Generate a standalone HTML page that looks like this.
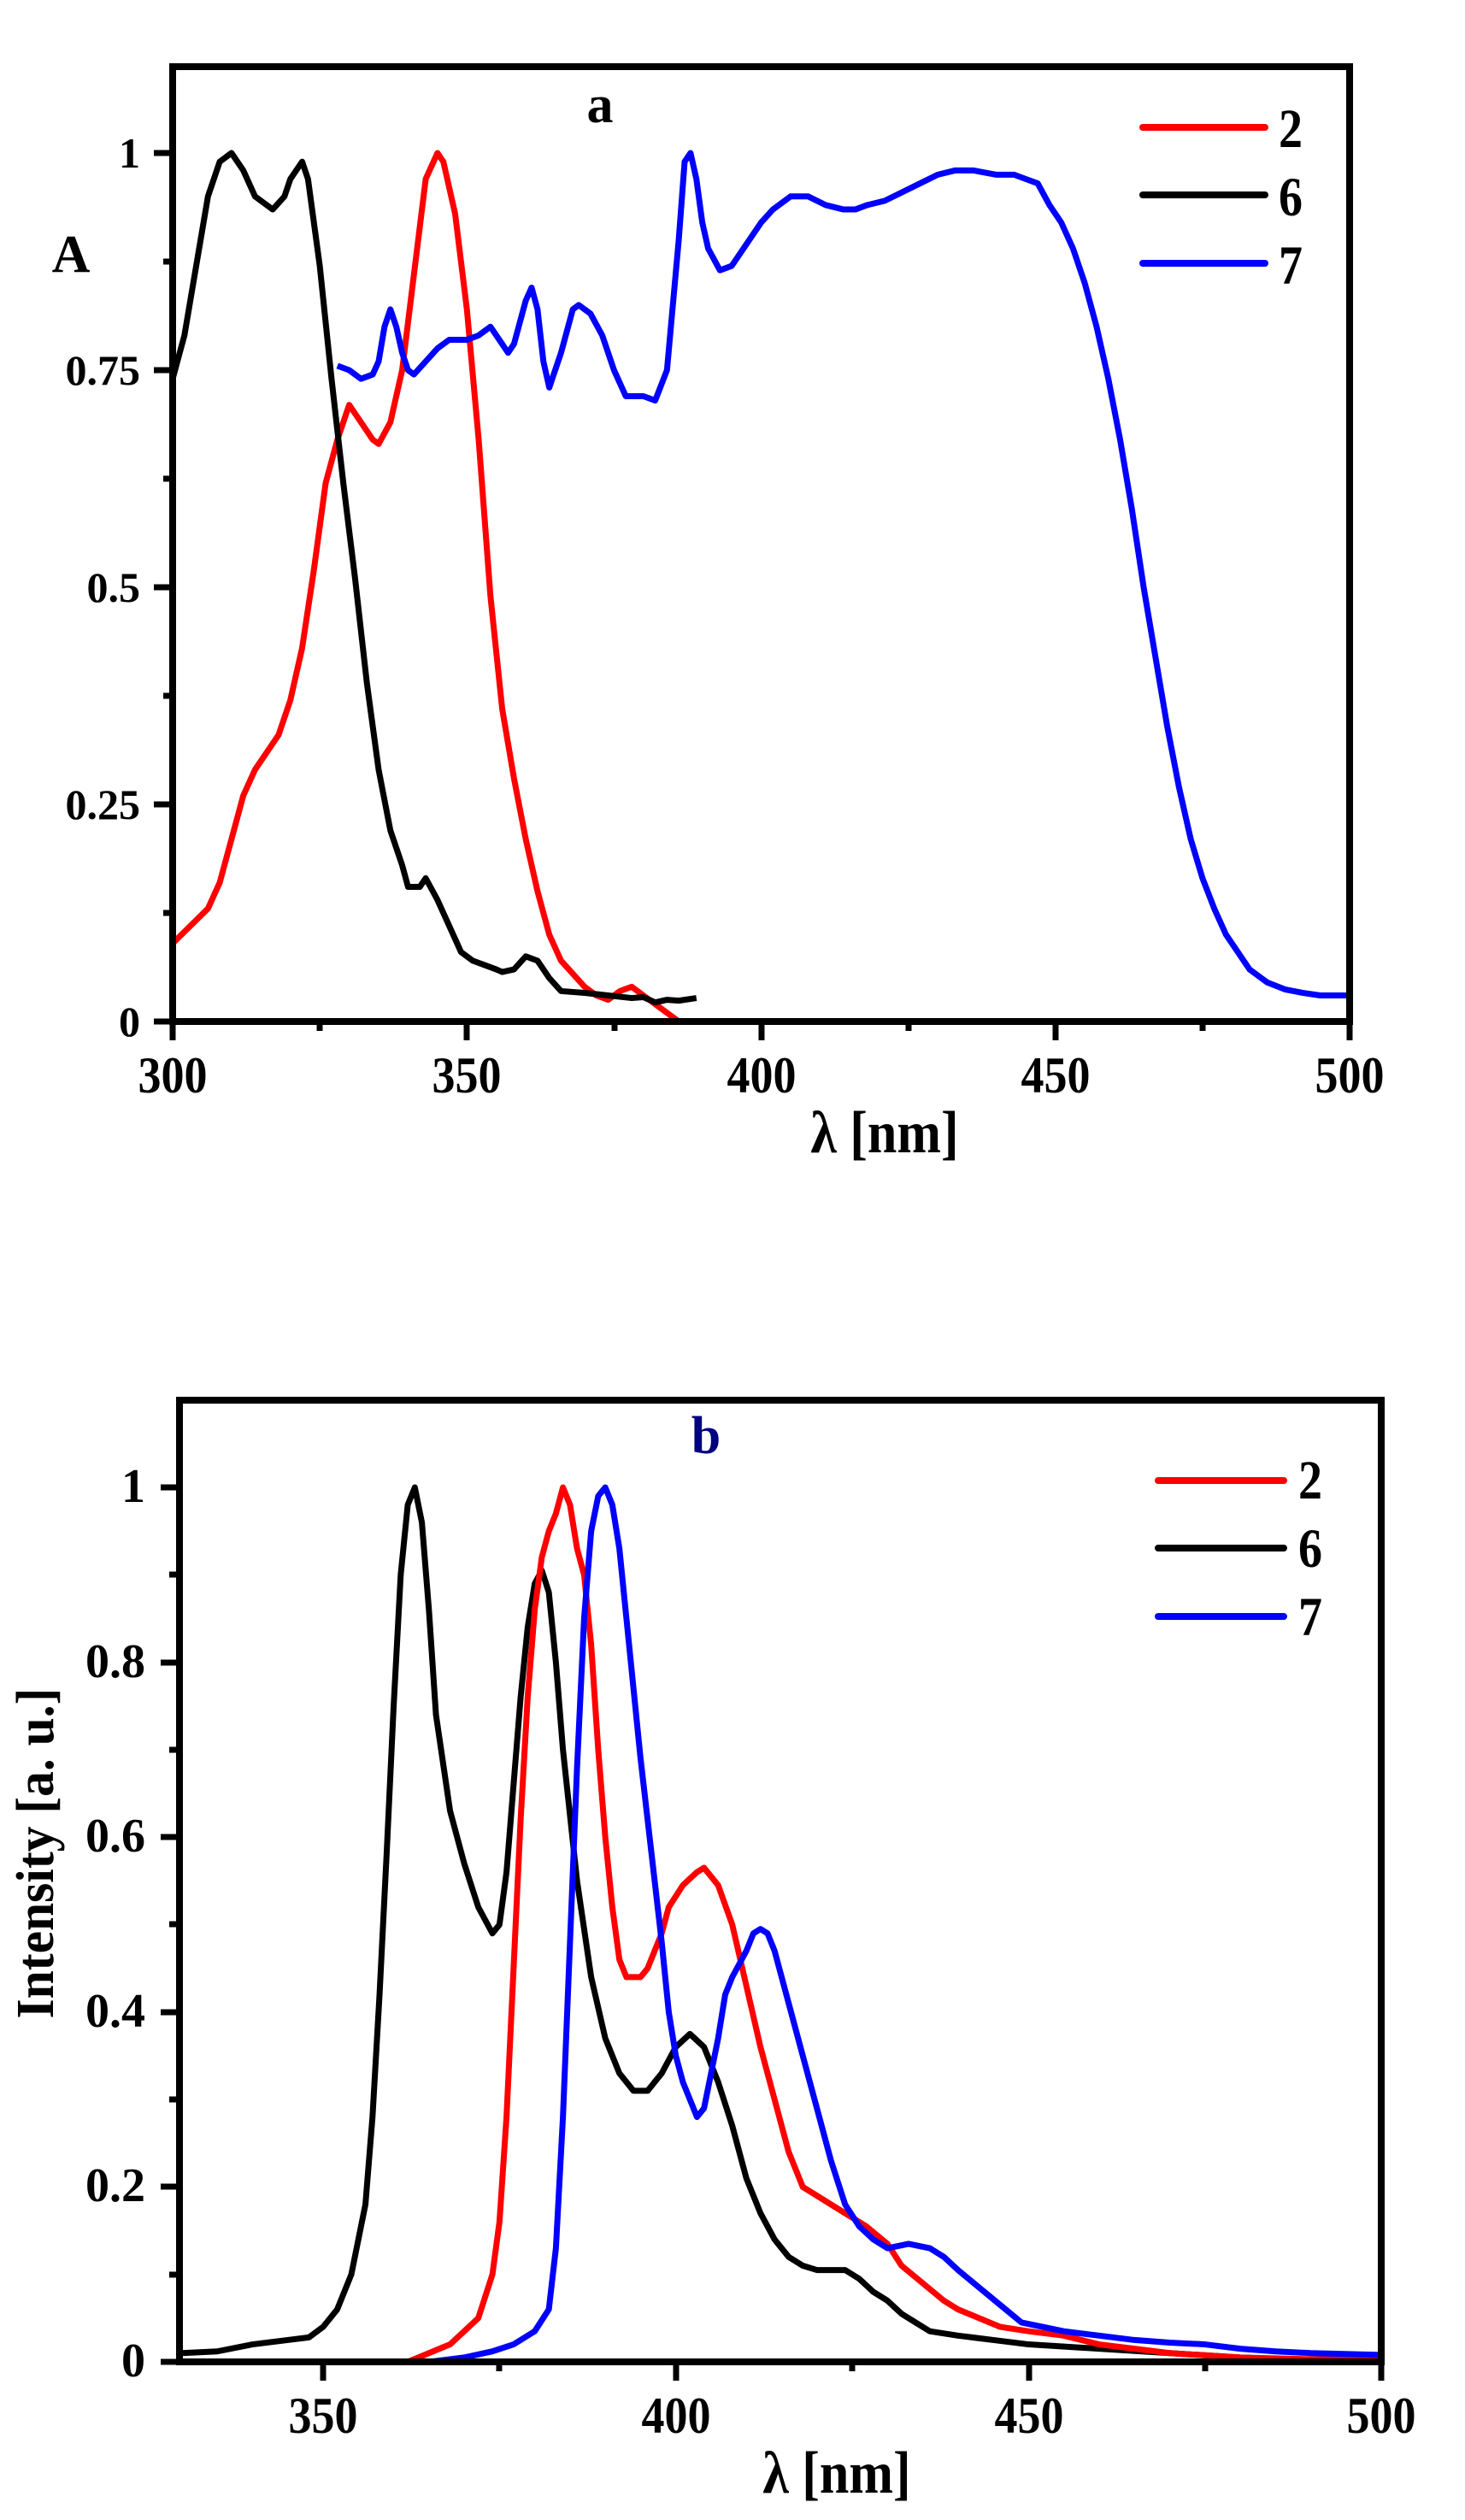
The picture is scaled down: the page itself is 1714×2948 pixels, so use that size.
<!DOCTYPE html>
<html><head><meta charset="utf-8"><style>
html,body{margin:0;padding:0;background:#fff;}
svg{display:block;}
text{font-family:"Liberation Serif",serif;font-weight:bold;fill:#000;}
.c{fill:none;stroke-width:7;stroke-linejoin:round;vector-effect:non-scaling-stroke;}
.ax{fill:none;stroke:#000;stroke-width:8;}
.tk{stroke:#000;stroke-width:7;}
.lg{stroke-width:8;stroke-linecap:round;}
</style></head><body>
<svg width="1714" height="2948" viewBox="0 0 1714 2948" xmlns="http://www.w3.org/2000/svg">
<!-- Plot a -->
<g transform="translate(202,1195) scale(6.885,-1016) translate(-300,0)">
<polyline class="c" stroke="#ff0000" points="300,0.09 303,0.11 306,0.13 308,0.16 310,0.21 312,0.26 314,0.29 316,0.31 318,0.33 320,0.37 322,0.43 324,0.52 326,0.62 328,0.67 330,0.71 332,0.69 334,0.67 335,0.665 337,0.69 339,0.75 341,0.86 343,0.97 345,1.0 346,0.99 348,0.93 350,0.82 352,0.67 354,0.49 356,0.36 358,0.28 360,0.21 362,0.15 364,0.10 366,0.07 368,0.055 370,0.04 372,0.03 374,0.025 376,0.035 378,0.04 380,0.03 382,0.02 384,0.01 386,0.0"/>
<polyline class="c" stroke="#000" points="300,0.74 302,0.79 304,0.87 306,0.95 308,0.99 310,1.0 312,0.98 314,0.95 316,0.94 317,0.935 319,0.95 320,0.97 322,0.99 323,0.97 325,0.87 327,0.74 329,0.62 331,0.51 333,0.39 335,0.29 337,0.22 339,0.18 340,0.155 342,0.155 343,0.165 345,0.14 347,0.11 349,0.08 351,0.07 353,0.065 355,0.06 356,0.057 358,0.06 360,0.075 362,0.07 364,0.05 366,0.035 370,0.033 374,0.03 378,0.027 380,0.028 382,0.022 384,0.025 386,0.024 389,0.027"/>
<polyline class="c" stroke="#0000ff" points="328,0.755 330,0.75 332,0.74 334,0.745 335,0.76 336,0.80 337,0.82 338,0.80 339,0.77 340,0.75 341,0.745 343,0.76 345,0.775 347,0.785 350,0.785 352,0.79 354,0.80 356,0.78 357,0.77 358,0.78 360,0.83 361,0.845 362,0.82 363,0.76 364,0.73 366,0.77 368,0.82 369,0.825 371,0.815 373,0.79 375,0.75 377,0.72 380,0.72 382,0.715 384,0.75 386,0.90 387,0.99 388,1.0 389,0.97 390,0.92 391,0.89 393,0.865 395,0.87 397,0.89 400,0.92 402,0.935 405,0.95 408,0.95 411,0.94 414,0.935 416,0.935 418,0.94 421,0.945 424,0.955 427,0.965 430,0.975 433,0.98 436,0.98 440,0.975 443,0.975 445,0.97 447,0.965 449,0.94 451,0.92 453,0.89 455,0.85 457,0.80 459,0.74 461,0.67 463,0.59 465,0.50 467,0.42 469,0.34 471,0.27 473,0.21 475,0.165 477,0.13 479,0.10 481,0.08 483,0.06 486,0.045 489,0.037 492,0.033 495,0.03 500,0.03"/>
</g>
<rect class="ax" x="202" y="78" width="1377" height="1117"/>
<g class="tk">
<line x1="202" y1="1195" x2="180" y2="1195"/><line x1="202" y1="941" x2="180" y2="941"/><line x1="202" y1="687" x2="180" y2="687"/><line x1="202" y1="433" x2="180" y2="433"/><line x1="202" y1="179" x2="180" y2="179"/>
<line x1="202" y1="1068" x2="191" y2="1068"/><line x1="202" y1="814" x2="191" y2="814"/><line x1="202" y1="560" x2="191" y2="560"/><line x1="202" y1="306" x2="191" y2="306"/>
<line x1="202" y1="1195" x2="202" y2="1217"/><line x1="546" y1="1195" x2="546" y2="1217"/><line x1="891" y1="1195" x2="891" y2="1217"/><line x1="1235" y1="1195" x2="1235" y2="1217"/><line x1="1579" y1="1195" x2="1579" y2="1217"/>
<line x1="374" y1="1195" x2="374" y2="1206"/><line x1="719" y1="1195" x2="719" y2="1206"/><line x1="1063" y1="1195" x2="1063" y2="1206"/><line x1="1407" y1="1195" x2="1407" y2="1206"/>
</g>
<g font-size="50" text-anchor="end">
<text x="164" y="1212">0</text><text x="164" y="958">0.25</text><text x="164" y="704">0.5</text><text x="164" y="450">0.75</text><text x="164" y="196">1</text>
</g>
<g font-size="54" text-anchor="middle">
<text transform="translate(202,1278) scale(1,1.12)">300</text>
<text transform="translate(546,1278) scale(1,1.12)">350</text>
<text transform="translate(891,1278) scale(1,1.12)">400</text>
<text transform="translate(1235,1278) scale(1,1.12)">450</text>
<text transform="translate(1579,1278) scale(1,1.12)">500</text>
</g>
<text transform="translate(1035,1348) scale(1,1.12)" font-size="62" text-anchor="middle">λ [nm]</text>
<text x="83" y="318" font-size="62" text-anchor="middle">A</text>
<text x="702" y="143" font-size="62" text-anchor="middle">a</text>
<line class="lg" x1="1337" y1="149" x2="1480" y2="149" stroke="#ff0000"/>
<line class="lg" x1="1337" y1="228" x2="1480" y2="228" stroke="#000"/>
<line class="lg" x1="1337" y1="308" x2="1480" y2="308" stroke="#0000ff"/>
<g font-size="56">
<text transform="translate(1496,172) scale(1,1.15)">2</text>
<text transform="translate(1496,252) scale(1,1.15)">6</text>
<text transform="translate(1496,332) scale(1,1.15)">7</text>
</g>

<!-- Plot b -->
<g transform="translate(210,2763) scale(8.253,-1023) translate(-329.64,0)">
<polyline class="c" stroke="#000" points="330,0.01 335,0.012 340,0.02 345,0.025 348,0.028 350,0.04 352,0.06 354,0.1 356,0.18 357,0.28 358,0.42 359,0.58 360,0.75 361,0.90 362,0.98 363,1.0 364,0.96 365,0.86 366,0.74 368,0.63 370,0.57 372,0.52 374,0.49 375,0.50 376,0.56 377,0.66 378,0.76 379,0.84 380,0.89 381,0.905 382,0.88 383,0.80 384,0.70 386,0.55 388,0.44 390,0.37 392,0.33 394,0.31 396,0.31 398,0.33 400,0.36 402,0.375 404,0.36 406,0.32 408,0.27 410,0.21 412,0.17 414,0.14 416,0.12 418,0.11 420,0.105 424,0.105 426,0.095 428,0.08 430,0.07 432,0.055 434,0.045 436,0.035 440,0.03 445,0.025 450,0.02 460,0.015 470,0.01 480,0.005 490,0.002"/>
<polyline class="c" stroke="#ff0000" points="362,0 365,0.01 368,0.02 370,0.035 372,0.05 374,0.10 375,0.16 376,0.28 377,0.45 378,0.62 379,0.76 380,0.86 381,0.92 382,0.95 383,0.97 384,1.0 385,0.98 386,0.93 387,0.90 388,0.82 389,0.70 390,0.60 391,0.52 392,0.46 393,0.44 395,0.44 396,0.45 398,0.49 399,0.52 401,0.545 403,0.56 404,0.565 406,0.545 408,0.50 410,0.43 412,0.36 414,0.30 416,0.24 418,0.20 420,0.19 422,0.18 424,0.17 427,0.155 430,0.135 432,0.11 435,0.09 438,0.07 440,0.06 443,0.05 446,0.04 450,0.035 455,0.03 460,0.02 465,0.015 470,0.01 480,0.005 490,0.003 500,0.003"/>
<polyline class="c" stroke="#0000ff" points="365,0 370,0.005 374,0.012 377,0.02 380,0.035 382,0.06 383,0.13 384,0.28 385,0.48 386,0.68 387,0.85 388,0.95 389,0.99 390,1.0 391,0.98 392,0.93 393,0.85 394,0.77 395,0.69 396,0.62 397,0.55 398,0.48 399,0.40 400,0.35 401,0.32 402,0.30 403,0.28 404,0.29 405,0.33 406,0.37 407,0.42 408,0.44 410,0.47 411,0.49 412,0.495 413,0.49 414,0.47 416,0.41 418,0.35 420,0.29 422,0.23 424,0.18 426,0.155 428,0.14 430,0.13 433,0.135 436,0.13 438,0.12 440,0.105 443,0.085 446,0.065 449,0.045 452,0.04 455,0.035 460,0.03 465,0.025 470,0.022 475,0.02 480,0.015 485,0.012 490,0.01 500,0.008"/>
</g>
<rect class="ax" x="210" y="1638" width="1406" height="1125"/>
<g class="tk">
<line x1="210" y1="2763" x2="188" y2="2763"/><line x1="210" y1="2558" x2="188" y2="2558"/><line x1="210" y1="2354" x2="188" y2="2354"/><line x1="210" y1="2149" x2="188" y2="2149"/><line x1="210" y1="1945" x2="188" y2="1945"/><line x1="210" y1="1740" x2="188" y2="1740"/>
<line x1="210" y1="2661" x2="198" y2="2661"/><line x1="210" y1="2456" x2="198" y2="2456"/><line x1="210" y1="2251" x2="198" y2="2251"/><line x1="210" y1="2047" x2="198" y2="2047"/><line x1="210" y1="1842" x2="198" y2="1842"/>
<line x1="378" y1="2763" x2="378" y2="2785"/><line x1="791" y1="2763" x2="791" y2="2785"/><line x1="1204" y1="2763" x2="1204" y2="2785"/><line x1="1616" y1="2763" x2="1616" y2="2785"/>
<line x1="584" y1="2763" x2="584" y2="2774"/><line x1="997" y1="2763" x2="997" y2="2774"/><line x1="1410" y1="2763" x2="1410" y2="2774"/>
</g>
<g font-size="56" text-anchor="end">
<text x="170" y="2780">0</text><text x="170" y="2575">0.2</text><text x="170" y="2371">0.4</text><text x="170" y="2166">0.6</text><text x="170" y="1962">0.8</text><text x="170" y="1757">1</text>
</g>
<g font-size="54" text-anchor="middle">
<text transform="translate(378,2846) scale(1,1.12)">350</text>
<text transform="translate(791,2846) scale(1,1.12)">400</text>
<text transform="translate(1204,2846) scale(1,1.12)">450</text>
<text transform="translate(1616,2846) scale(1,1.12)">500</text>
</g>
<text transform="translate(979,2916) scale(1,1.12)" font-size="62" text-anchor="middle">λ [nm]</text>
<text transform="translate(62,2168) rotate(-90)" font-size="62" text-anchor="middle" textLength="387" lengthAdjust="spacingAndGlyphs">Intensity [a. u.]</text>
<text x="826" y="1700" font-size="62" text-anchor="middle" style="fill:#000080">b</text>
<line class="lg" x1="1355" y1="1732" x2="1502" y2="1732" stroke="#ff0000"/>
<line class="lg" x1="1355" y1="1811" x2="1502" y2="1811" stroke="#000"/>
<line class="lg" x1="1355" y1="1891" x2="1502" y2="1891" stroke="#0000ff"/>
<g font-size="56">
<text transform="translate(1519,1753) scale(1,1.15)">2</text>
<text transform="translate(1519,1833) scale(1,1.15)">6</text>
<text transform="translate(1519,1913) scale(1,1.15)">7</text>
</g>
</svg>
</body></html>
